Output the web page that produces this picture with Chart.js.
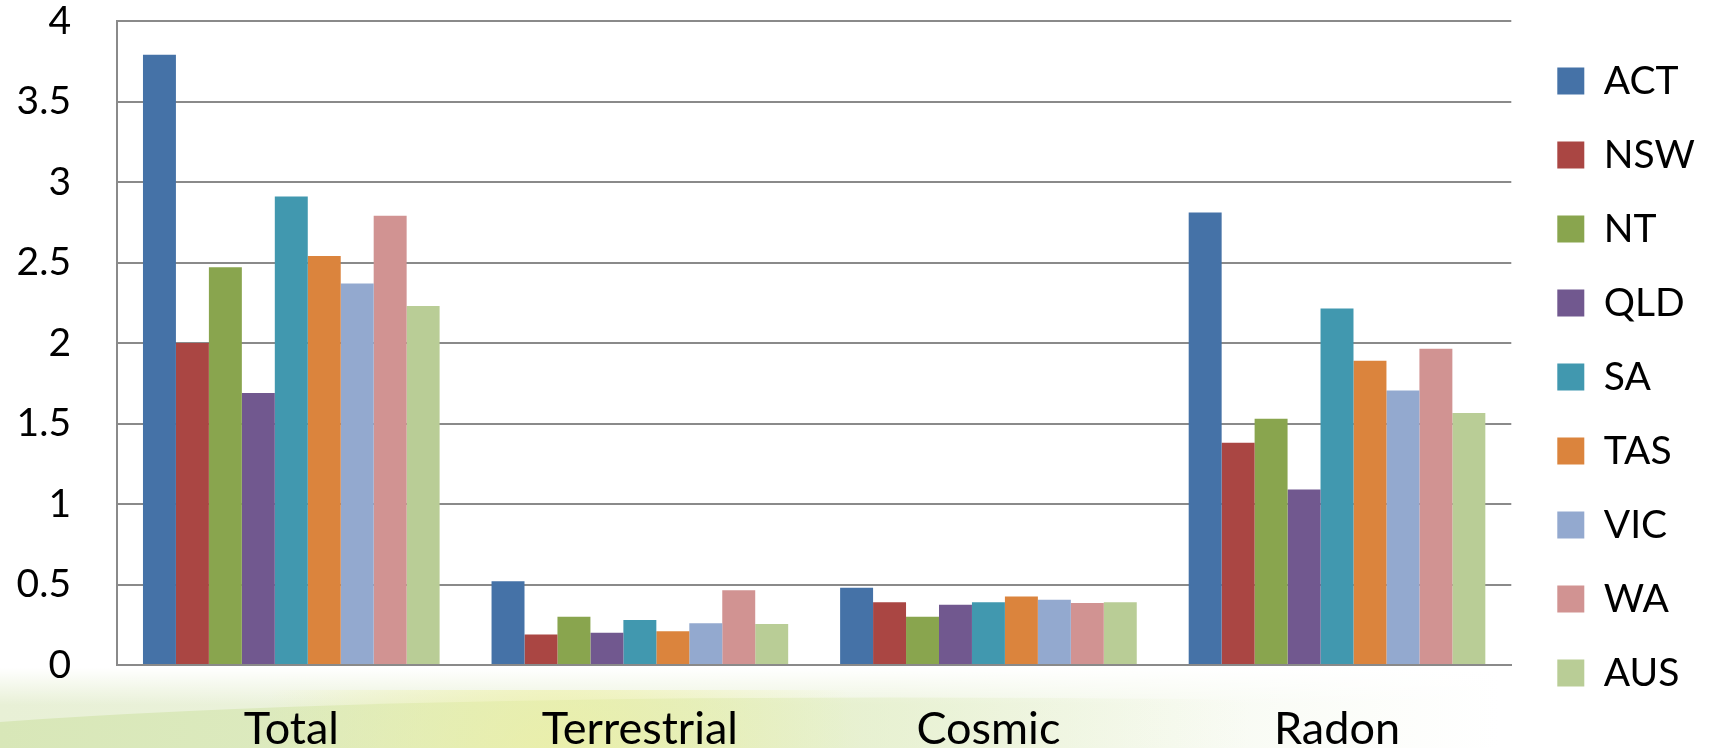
<!DOCTYPE html>
<html>
<head>
<meta charset="utf-8">
<title>Dose by region</title>
<script src="https://cdn.jsdelivr.net/npm/chart.js@4.4.1/dist/chart.umd.min.js"></script>
<style>
    html, body { margin: 0; padding: 0; background: #fff; }
    #chartBox { width: 1711px; height: 748px; }
</style>
</head>
<body>
<div id="chartBox"><canvas id="doseChart"></canvas></div>
<script>
var categories = ['Total', 'Terrestrial', 'Cosmic', 'Radon'];
var regions = ['ACT', 'NSW', 'NT', 'QLD', 'SA', 'TAS', 'VIC', 'WA', 'AUS'];

// values per region, in category order
var actValues = [3.79, 0.52, 0.48, 2.81];
var nswValues = [2.00, 0.19, 0.39, 1.38];
var ntValues  = [2.47, 0.30, 0.30, 1.53];
var qldValues = [1.69, 0.20, 0.375, 1.09];
var saValues  = [2.91, 0.28, 0.39, 2.215];
var tasValues = [2.54, 0.21, 0.425, 1.89];
var vicValues = [2.37, 0.26, 0.405, 1.705];
var waValues  = [2.79, 0.465, 0.385, 1.965];
var ausValues = [2.23, 0.255, 0.39, 1.565];

var yTicks = [0, 0.5, 1, 1.5, 2, 2.5, 3, 3.5, 4];

var seriesValues = [actValues, nswValues, ntValues, qldValues, saValues, tasValues, vicValues, waValues, ausValues];
var colors = ['#4572A7', '#AA4643', '#89A54E', '#71588F', '#4198AF', '#DB843D', '#93A9CF', '#D19392', '#B9CD96'];

var gridColor = '#8a8a8a';
var legendShift = 11;

var datasets = regions.map(function(name, i) {
    return {
        label: name,
        data: seriesValues[i],
        backgroundColor: colors[i],
        borderWidth: 0,
        barPercentage: 1,
        categoryPercentage: 0.851
    };
});

// white page with the pale green swoosh along the bottom
var backdrop = {
    id: 'backdrop',
    beforeDraw: function(chart) {
        var ctx = chart.ctx;
        var w = chart.width, h = chart.height;
        ctx.save();
        ctx.fillStyle = '#ffffff';
        ctx.fillRect(0, 0, w, h);

        // pale wash below the axis, fading out towards the right
        var wash = ctx.createLinearGradient(0, 0, 1500, 0);
        wash.addColorStop(0, 'rgba(232, 240, 214, 1)');
        wash.addColorStop(0.6, 'rgba(236, 243, 220, 0.85)');
        wash.addColorStop(1, 'rgba(240, 246, 230, 0)');
        ctx.fillStyle = wash;
        ctx.fillRect(0, 668, w, h - 668);

        // soften its top edge
        var fade = ctx.createLinearGradient(0, 668, 0, 705);
        fade.addColorStop(0, 'rgba(255, 255, 255, 1)');
        fade.addColorStop(1, 'rgba(255, 255, 255, 0)');
        ctx.fillStyle = fade;
        ctx.fillRect(0, 668, w, 37);

        // stronger green under the arc
        var band = ctx.createLinearGradient(0, 0, 1250, 0);
        band.addColorStop(0, 'rgba(216, 231, 184, 1)');
        band.addColorStop(0.55, 'rgba(224, 237, 194, 0.85)');
        band.addColorStop(1, 'rgba(232, 241, 208, 0)');
        ctx.fillStyle = band;
        ctx.beginPath();
        ctx.moveTo(0, h);
        ctx.lineTo(0, 722);
        ctx.quadraticCurveTo(450, 690, 1250, 700);
        ctx.lineTo(1250, h);
        ctx.closePath();
        ctx.fill();

        var glow = ctx.createRadialGradient(560, 770, 10, 560, 770, 300);
        glow.addColorStop(0, 'rgba(238, 240, 160, 0.7)');
        glow.addColorStop(1, 'rgba(238, 240, 160, 0)');
        ctx.fillStyle = glow;
        ctx.fillRect(200, 690, 760, 60);
        ctx.restore();
    },
    afterLayout: function(chart) {
        if (chart.legend) {
            chart.legend.left += legendShift;
            chart.legend.right += legendShift;
        }
    }
};

var ctx = document.getElementById('doseChart').getContext('2d');
var doseChart = new Chart(ctx, {
    type: 'bar',
    data: {
        labels: categories,
        datasets: datasets
    },
    plugins: [backdrop],
    options: {
        responsive: true,
        maintainAspectRatio: false,
        animation: false,
        layout: {
            padding: { left: 0, right: 17, top: 6, bottom: 0 }
        },
        plugins: {
            legend: {
                position: 'right',
                labels: {
                    boxWidth: 27,
                    boxHeight: 27,
                    padding: 35,
                    color: '#000',
                    font: { family: 'Lato', size: 39 }
                }
            },
            tooltip: { enabled: false }
        },
        scales: {
            x: {
                grid: { display: false },
                border: { display: true, color: gridColor, width: 2 },
                ticks: {
                    color: '#000',
                    padding: 29,
                    font: { family: 'Lato', size: 45, lineHeight: 1.2 }
                },
                afterFit: function(scale) { scale.height = 83; }
            },
            y: {
                min: 0,
                max: 4,
                afterBuildTicks: function(scale) {
                    scale.ticks = yTicks.map(function(v) { return { value: v }; });
                },
                grid: { color: gridColor, lineWidth: 2, drawTicks: false },
                border: { display: true, color: gridColor, width: 2 },
                ticks: {
                    color: '#000',
                    padding: 46,
                    font: { family: 'Lato', size: 39, lineHeight: 1.05 },
                    callback: function(value) { return String(value); }
                },
                afterFit: function(scale) {
                    scale.width = 117;
                    scale.paddingTop = 21;
                    scale.paddingBottom = 21;
                }
            }
        }
    }
});
</script>
</body>
</html>
